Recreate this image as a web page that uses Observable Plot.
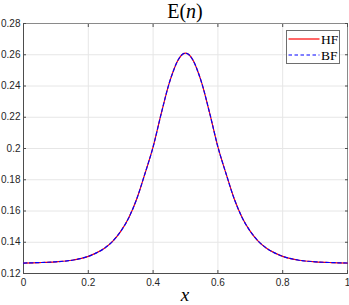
<!DOCTYPE html>
<html>
<head>
<meta charset="utf-8">
<script src="https://cdn.jsdelivr.net/npm/d3@7"></script>
<script src="https://cdn.jsdelivr.net/npm/@observablehq/plot@0.6"></script>
<style>
  html, body { margin: 0; padding: 0; background: #fff; }
  #wrap { position: relative; width: 349px; height: 305px; overflow: hidden; }
  #title { position: absolute; left: 23px; width: 324px; top: 1px; text-align: center;
           font-family: "Liberation Serif", serif; font-size: 20px; line-height: 20px; color: #000; }
  #chart { position: absolute; left: 0; top: 10px; }
  #xlabel { position: absolute; left: 23px; width: 324px; top: 286px; text-align: center;
            font-family: "Liberation Serif", serif; font-style: italic; font-size: 19px; line-height: 18px; color: #000; }
  #legend { position: absolute; left: 285.5px; top: 30px; width: 54px; height: 34px;
            border: 1px solid #6e6e6e; background: #fff; box-sizing: border-box; }
</style>
</head>
<body>
<div id="wrap">
  <div id="chart"></div>
  <div id="title">E(<i>n</i>)</div>
  <div id="xlabel">x</div>
  <div id="legend"></div>
</div>
<script>
// Values
const xValues = [0, 0.05, 0.1, 0.15, 0.175, 0.2, 0.225, 0.25, 0.275, 0.3, 0.325, 0.35, 0.375, 0.4, 0.425, 0.45, 0.4625, 0.475, 0.4875, 0.5,
                 0.5125, 0.525, 0.5375, 0.55, 0.575, 0.6, 0.625, 0.65, 0.675, 0.7, 0.725, 0.75, 0.775, 0.8, 0.825, 0.85, 0.9, 0.95, 1];
const hfValues = [0.1267, 0.1270, 0.1275, 0.1285, 0.1295, 0.1310, 0.1332, 0.1362, 0.1406, 0.1470, 0.1557, 0.1680, 0.1840, 0.2010, 0.2223, 0.2420, 0.2496, 0.2558, 0.2597, 0.2610,
                  0.2597, 0.2558, 0.2496, 0.2420, 0.2223, 0.2010, 0.1840, 0.1680, 0.1557, 0.1470, 0.1406, 0.1362, 0.1332, 0.1310, 0.1295, 0.1285, 0.1275, 0.1270, 0.1267];
const bfValues = [0.1267, 0.1270, 0.1275, 0.1285, 0.1295, 0.1310, 0.1332, 0.1362, 0.1406, 0.1470, 0.1557, 0.1680, 0.1840, 0.2010, 0.2223, 0.2420, 0.2496, 0.2558, 0.2597, 0.2610,
                  0.2597, 0.2558, 0.2496, 0.2420, 0.2223, 0.2010, 0.1840, 0.1680, 0.1557, 0.1470, 0.1406, 0.1362, 0.1332, 0.1310, 0.1295, 0.1285, 0.1275, 0.1270, 0.1267];
const seriesNames = ["HF", "BF"];
const seriesColors = ["#ff0000", "#0000ff"];
const xTicks = [0, 0.2, 0.4, 0.6, 0.8, 1];
const xTickLabels = ["0", "0.2", "0.4", "0.6", "0.8", "1"];
const yTicks = [0.12, 0.14, 0.16, 0.18, 0.2, 0.22, 0.24, 0.26, 0.28];
const yTickLabels = ["0.12", "0.14", "0.16", "0.18", "0.2", "0.22", "0.24", "0.26", "0.28"];

const hf = xValues.map((x, i) => ({x, y: hfValues[i]}));
const bf = xValues.map((x, i) => ({x, y: bfValues[i]}));

const axisColor = "#4d4d4d";
const chart = Plot.plot({
  width: 349,
  height: 280,
  marginLeft: 23,
  marginRight: 2,
  marginTop: 13,
  marginBottom: 17,
  style: {fontFamily: "'Liberation Sans', Arial, sans-serif", fontSize: "10px", color: "#262626", background: "transparent"},
  x: {domain: [0, 1], label: null},
  y: {domain: [0.12, 0.28], label: null},
  marks: [
    Plot.ruleX(xTicks, {stroke: "#e6e6e6", strokeWidth: 1}),
    Plot.ruleY(yTicks, {stroke: "#e6e6e6", strokeWidth: 1}),
    Plot.frame({stroke: "#8a8a8a", strokeWidth: 1}),
    Plot.axisX({anchor: "bottom", ticks: xTicks, tickSize: -3, tickPadding: 8, stroke: axisColor,
                tickFormat: (d) => xTickLabels[xTicks.indexOf(d)], label: null}),
    Plot.axisX({anchor: "top", ticks: xTicks, tickSize: -3, stroke: axisColor, tickFormat: () => "", label: null}),
    Plot.axisY({anchor: "left", ticks: yTicks, tickSize: -3, tickPadding: 6, stroke: axisColor,
                tickFormat: (d) => yTickLabels[yTicks.findIndex(t => Math.abs(t - d) < 1e-9)], label: null}),
    Plot.axisY({anchor: "right", ticks: yTicks, tickSize: -3, stroke: axisColor, tickFormat: () => "", label: null}),
    Plot.ruleX([0], {stroke: axisColor, strokeWidth: 1}),
    Plot.ruleY([0.12], {stroke: axisColor, strokeWidth: 1}),
    Plot.line(hf, {x: "x", y: "y", stroke: seriesColors[0], strokeWidth: 1.2, curve: "monotone-x"}),
    Plot.line(bf, {x: "x", y: "y", stroke: seriesColors[1], strokeWidth: 1.2, strokeDasharray: "3.5,2.5", curve: "monotone-x"})
  ]
});
document.getElementById("chart").appendChild(chart);

// Legend
const lg = d3.select("#legend").append("svg").attr("width", 52).attr("height", 32);
seriesNames.forEach((name, i) => {
  const cy = 8 + i * 16;
  lg.append("line").attr("x1", 1.5).attr("x2", 32.5).attr("y1", cy).attr("y2", cy)
    .attr("stroke", seriesColors[i]).attr("stroke-width", 1.2)
    .attr("stroke-dasharray", i === 1 ? "3.5,2.5" : null);
  lg.append("text").attr("x", 34).attr("y", cy + 4.5).text(name)
    .attr("font-family", "'Liberation Serif', serif").attr("font-size", 13.5).attr("fill", "#000");
});
</script>
</body>
</html>
